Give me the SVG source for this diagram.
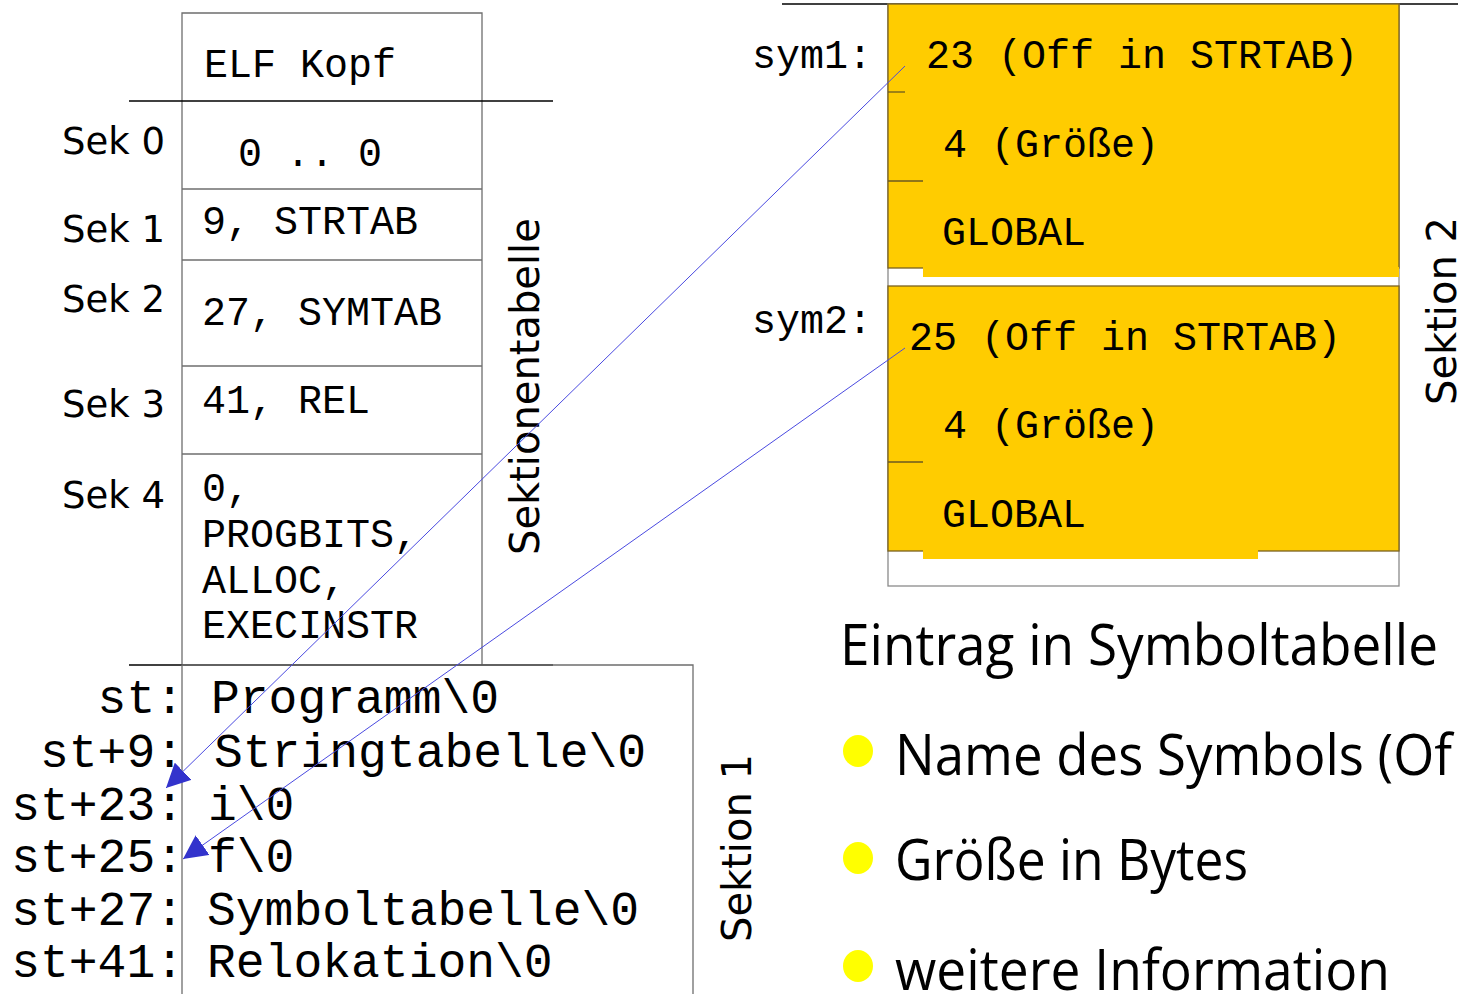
<svg xmlns="http://www.w3.org/2000/svg" width="1458" height="994" viewBox="0 0 1458 994">
  <style>
    .mono { font-family: "Liberation Mono", "Courier New", monospace; fill: #000; }
    .sans { font-family: "DejaVu Sans", "Verdana", sans-serif; fill: #000; }
    .note { font-family: "Open Sans", "Noto Sans", sans-serif; fill: #000; }
    .cell { fill: none; stroke: #6e6e6e; stroke-width: 1.3; }
    .rule { stroke: #000; stroke-width: 1.3; }
    .slot { fill: #ffcc00; stroke: #7a6220; stroke-width: 1.3; }
    .pad { fill: #ffcc00; }
    .tick { stroke: #6b5a20; stroke-width: 1.3; }
    .link { stroke: #4a4ae0; stroke-width: 1; fill: none; marker-end: url(#head); }
    .dot { fill: #ffff00; }
  </style>
  <defs>
    <marker id="head" markerUnits="userSpaceOnUse" viewBox="0 0 24 24" markerWidth="24" markerHeight="24" refX="24" refY="12" orient="auto">
      <path d="M0,0 L24,12 L0,24 z" fill="#3333cc"/>
    </marker>
  </defs>

  <rect width="1458" height="994" fill="#fff"/>

  <!-- section header table -->
  <g id="section-table">
    <polyline class="cell" points="182,665 182,13 482,13 482,665"/>
    <line class="cell" x1="182" y1="189" x2="482" y2="189"/>
    <line class="cell" x1="182" y1="260" x2="482" y2="260"/>
    <line class="cell" x1="182" y1="366" x2="482" y2="366"/>
    <line class="cell" x1="182" y1="454" x2="482" y2="454"/>
    <line class="rule" x1="129" y1="101" x2="553" y2="101"/>
    <text class="mono" x="204" y="77" font-size="40">ELF Kopf</text>
    <text class="mono" x="238" y="166" font-size="40">0 .. 0</text>
    <text class="mono" x="202" y="234" font-size="40">9, STRTAB</text>
    <text class="mono" x="202" y="325" font-size="40">27, SYMTAB</text>
    <text class="mono" x="202" y="413" font-size="40">41, REL</text>
    <text class="mono" x="202" y="501" font-size="40">0,</text>
    <text class="mono" x="202" y="547" font-size="40">PROGBITS,</text>
    <text class="mono" x="202" y="593" font-size="40">ALLOC,</text>
    <text class="mono" x="202" y="638" font-size="40">EXECINSTR</text>
  </g>

  <g id="section-labels" class="sans" font-size="37" text-anchor="end">
    <text x="165" y="154">Sek 0</text>
    <text x="165" y="242">Sek 1</text>
    <text x="165" y="312">Sek 2</text>
    <text x="165" y="417">Sek 3</text>
    <text x="165" y="508">Sek 4</text>
  </g>

  <g id="section-table-title">
    <text class="sans" font-size="40" transform="translate(539,555) rotate(-90)">Sektionentabelle</text>
  </g>

  <!-- section 1: string table -->
  <g id="string-table">
    <line class="rule" x1="129" y1="665" x2="553" y2="665"/>
    <polyline class="cell" points="182,994 182,665 693,665 693,994"/>
    <g class="mono" font-size="48">
      <text x="211" y="713">Programm\0</text>
      <text x="214" y="767">Stringtabelle\0</text>
      <text x="208" y="820">i\0</text>
      <text x="208" y="872">f\0</text>
      <text x="207" y="925">Symboltabelle\0</text>
      <text x="207" y="977">Relokation\0</text>
    </g>
    <g class="mono" font-size="48" text-anchor="end">
      <text x="184" y="713">st:</text>
      <text x="184" y="767">st+9:</text>
      <text x="184" y="820">st+23:</text>
      <text x="184" y="872">st+25:</text>
      <text x="184" y="925">st+27:</text>
      <text x="184" y="977">st+41:</text>
    </g>
    <text class="sans" font-size="40" transform="translate(751,942) rotate(-90)">Sektion 1</text>
  </g>

  <!-- section 2: symbol table -->
  <g id="symbol-table">
    <line class="rule" x1="782" y1="4" x2="1458" y2="4"/>
    <rect x="888" y="4" width="511" height="582" fill="#fff" stroke="#8a8a8a" stroke-width="1.3"/>
    <text class="sans" font-size="40" transform="translate(1456,405) rotate(-90)">Sektion 2</text>
  </g>

  <g id="sym1">
    <rect class="slot" x="888" y="4" width="511" height="264"/>
    <rect class="pad" x="923" y="267" width="476" height="10"/>
    <line class="tick" x1="888" y1="92" x2="905" y2="92"/>
    <line class="tick" x1="888" y1="181" x2="923" y2="181"/>
    <text class="mono" x="872" y="68" font-size="40" text-anchor="end">sym1:</text>
    <text class="mono" x="926" y="68" font-size="40">23 (Off in STRTAB)</text>
    <text class="mono" x="943" y="157" font-size="40">4 (Größe)</text>
    <text class="mono" x="942" y="245" font-size="40">GLOBAL</text>
  </g>

  <g id="sym2">
    <rect class="slot" x="888" y="286" width="511" height="265"/>
    <rect class="pad" x="923" y="550" width="335" height="9"/>
    <line class="tick" x1="888" y1="462" x2="923" y2="462"/>
    <text class="mono" x="872" y="333" font-size="40" text-anchor="end">sym2:</text>
    <text class="mono" x="909" y="350" font-size="40">25 (Off in STRTAB)</text>
    <text class="mono" x="943" y="438" font-size="40">4 (Größe)</text>
    <text class="mono" x="942" y="527" font-size="40">GLOBAL</text>
  </g>

  <!-- name offsets pointing into the string table -->
  <g id="connectors">
    <line class="link" x1="905" y1="66" x2="166" y2="788"/>
    <line class="link" x1="905" y1="348" x2="183" y2="859"/>
  </g>

  <g id="notes">
    <text class="note" x="840" y="665" font-size="56" textLength="598" lengthAdjust="spacingAndGlyphs">Eintrag in Symboltabelle</text>
    <ellipse class="dot" cx="858" cy="751" rx="15" ry="16"/>
    <text class="note" x="895" y="775" font-size="56" textLength="557" lengthAdjust="spacingAndGlyphs">Name des Symbols (Of</text>
    <ellipse class="dot" cx="858" cy="858" rx="15" ry="16"/>
    <text class="note" x="895" y="880" font-size="56" textLength="353" lengthAdjust="spacingAndGlyphs">Größe in Bytes</text>
    <ellipse class="dot" cx="858" cy="966" rx="15" ry="16"/>
    <text class="note" x="895" y="990" font-size="56" textLength="495" lengthAdjust="spacingAndGlyphs">weitere Information</text>
  </g>
</svg>
